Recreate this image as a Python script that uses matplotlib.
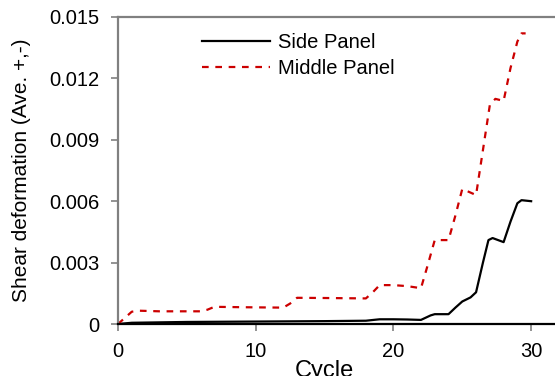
import matplotlib.pyplot as plt

plt.rcParams['font.family'] = ['Liberation Sans', 'DejaVu Sans']

# Side Panel (solid black)
side_x = [0, 1, 5, 10, 15, 18, 18.7, 19, 20, 21, 22, 22.7, 23, 24, 24.5, 25, 25.6, 26, 26.5, 26.9, 27.2, 28,
          28.5, 29, 29.3, 30]
side_y = [0, 0.00006, 0.0001, 0.00012, 0.00014, 0.00016, 0.00021, 0.00023, 0.00023, 0.00022, 0.0002,
          0.00042, 0.00048, 0.00048, 0.0008, 0.0011, 0.0013, 0.00155, 0.003, 0.0041, 0.0042, 0.004,
          0.005, 0.0059, 0.00605, 0.006]

# Middle Panel (dashed red)
mid_x = [0, 1, 1.5, 3, 6, 6.5, 7, 9, 12, 12.5, 13, 15, 18, 18.5, 19, 20, 21, 22, 22.5, 23, 24, 24.5, 25, 26,
         26.5, 27, 27.4, 28, 28.5, 29, 29.3, 29.6]
mid_y = [0, 0.0006, 0.00065, 0.00062, 0.00062, 0.0007, 0.00084, 0.00082, 0.0008, 0.001, 0.00128, 0.00127,
         0.00125, 0.00155, 0.0019, 0.0019, 0.00185, 0.00175, 0.0029, 0.0041, 0.0041, 0.0053, 0.0066, 0.0063,
         0.0085, 0.0107, 0.011, 0.0109, 0.0125, 0.0138, 0.0142, 0.0142]

yticks = [0, 0.003, 0.006, 0.009, 0.012, 0.015]
ytick_labels = ['0', '0.003', '0.006', '0.009', '0.012', '0.015']
xticks = [0, 10, 20, 30]

fig = plt.figure(figsize=(5.55, 3.76), dpi=100)
ax = fig.add_axes([118/555, 52/376, 482/555, 307/376])

ax.plot(side_x, side_y, color='black', linewidth=1.6, label='Side Panel')
ax.plot(mid_x, mid_y, color='#cc0000', linewidth=1.6, linestyle=(0, (3, 3)), label='Middle Panel')

ax.set_xlim(0, 35)
ax.set_ylim(0, 0.015)
ax.set_yticks(yticks)
ax.set_yticklabels(ytick_labels)
ax.set_xticks(xticks)

ax.spines['right'].set_visible(False)
ax.spines['top'].set_color('#808080')
ax.spines['left'].set_color('#808080')
ax.spines['bottom'].set_color('black')
for s in ['top', 'left', 'bottom']:
    ax.spines[s].set_linewidth(1.6)

ax.tick_params(axis='both', labelsize=14.5, direction='out', color='#808080', length=5, width=1.2)
ax.tick_params(axis='x', pad=8)
ax.tick_params(axis='y', pad=8.5)
ax.set_xlabel('Cycle', fontsize=17)
ax.xaxis.set_label_coords(15/35, -0.117)
ax.xaxis.label.set_va('top')
ax.set_ylabel('Shear deformation (Ave. +,-)', fontsize=15, labelpad=13)

ax.legend(loc='upper left', bbox_to_anchor=(202/555, 1 - 33/376), bbox_transform=fig.transFigure,
          frameon=False, fontsize=14.5, handlelength=3.4, handletextpad=0.35,
          labelspacing=0.35, borderpad=0, borderaxespad=0)

fig.savefig('out.png', dpi=100)
